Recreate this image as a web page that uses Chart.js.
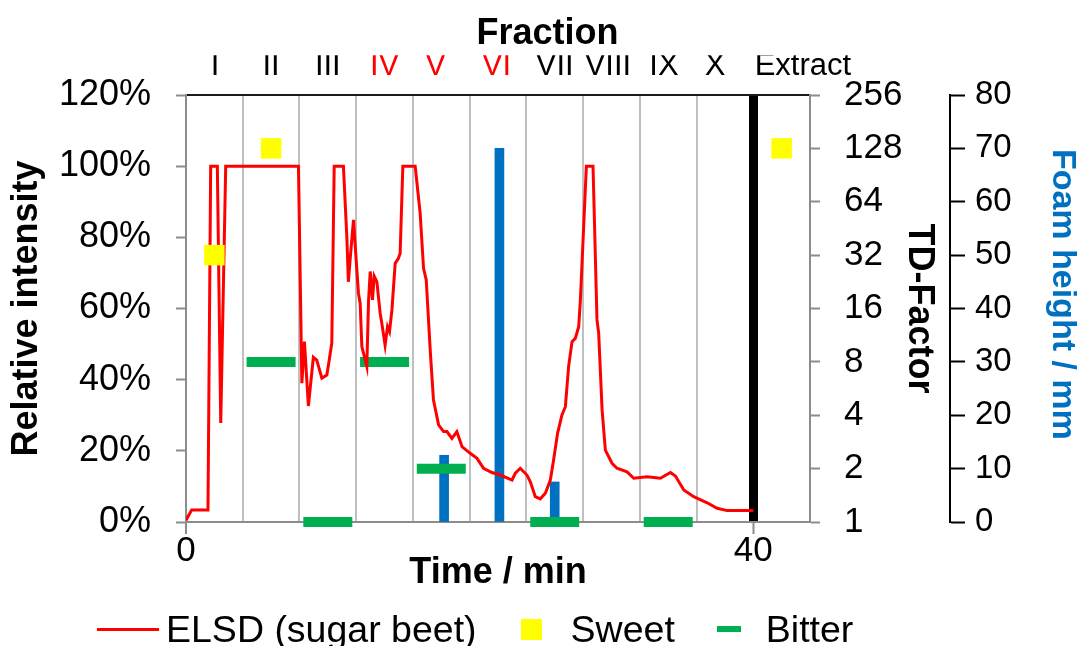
<!DOCTYPE html>
<html>
<head>
<meta charset="utf-8">
<script src="https://cdn.jsdelivr.net/npm/chart.js@4.4.0/dist/chart.umd.min.js"></script>
<style>
  html, body { margin: 0; padding: 0; background: #fff; }
  #wrap { position: relative; width: 1079px; height: 646px; }
  #legend {
    position: absolute; left: 97px; top: 609px; height: 40px;
    display: flex; align-items: center; white-space: nowrap;
    font-family: "Liberation Sans", Arial, sans-serif; font-size: 37.5px; color: #000;
  }
  #legend .line { width: 62px; height: 3px; background: #FF0000; margin-right: 7px; }
  #legend .sq { width: 21px; height: 21px; background: #FFFF00; margin: 0 29px 0 44px; }
  #legend .dash { width: 24px; height: 6px; background: #00B050; margin: 0 25px 0 42px; }
</style>
</head>
<body>
<div id="wrap">
  <canvas id="chart" width="1079" height="646"></canvas>
  <div id="legend">
    <span class="line"></span><span>ELSD (sugar beet)</span>
    <span class="sq"></span><span>Sweet</span>
    <span class="dash"></span><span>Bitter</span>
  </div>
</div>
<script>
// ELSD trace (time in min, relative intensity in %)
const elsdTime = [0, 0.4, 1.55, 1.74, 2.21, 2.45, 2.8, 7.93, 8.17, 8.35, 8.63, 8.98, 9.22, 9.58, 9.93, 10.04,
  10.28, 10.45, 11.1, 11.34, 11.45, 11.57, 11.81, 12.0, 12.16, 12.28, 12.4, 12.75, 12.87, 12.99, 13.15, 13.27,
  13.46, 13.69, 13.81, 14.04, 14.21, 14.35, 14.52, 14.75, 14.98, 15.1, 15.29, 16.16, 16.51, 16.75, 16.94, 17.1,
  17.22, 17.45, 17.81, 18.16, 18.4, 18.75, 19.1, 19.46, 20.04, 20.52, 20.98, 21.57, 22.16, 22.99, 23.22, 23.57,
  24.04, 24.28, 24.63, 24.98, 25.34, 25.69, 25.92, 26.2, 26.51, 26.75, 26.98, 27.22, 27.45, 27.69, 27.81, 28.23,
  28.7, 28.98, 29.1, 29.34, 29.57, 30.04, 30.39, 31.1, 31.57, 32.51, 33.45, 34.16, 34.51, 35.1, 35.8, 36.75,
  37.45, 38.16, 40];
const elsdIntensity = [0.5, 3.4, 3.4, 100, 100, 27.8, 100, 100, 39, 50.7, 32.6, 46.3, 45.5, 40.4, 41.3, 44,
  50.3, 100, 100, 80.2, 67.5, 73.6, 84.9, 73.6, 64.3, 61.5, 49.3, 43.7, 62, 70.4, 62.4, 69.1,
  67.5, 58.7, 55.8, 49.7, 54.9, 53.5, 59.6, 72.7, 74.1, 75.5, 100, 100, 86.8, 71.3, 68, 56.8,
  48.3, 34.3, 27.3, 25.4, 25.4, 23.5, 25.4, 21.2, 19.3, 17.9, 15.1, 13.9, 13.2, 11.8, 13.7, 15.1,
  13.2, 11.3, 7.1, 6.5, 8.1, 11.8, 17.4, 24.9, 30.1, 32.4, 43.7, 50.7, 51.6, 54.9, 62.4, 100,
  100, 56.8, 53, 31.5, 20.2, 16.5, 15.1, 14.1, 12.3, 12.7, 12.3, 13.9, 12.9, 9, 7.1, 5.4,
  3.85, 3.2, 3.2];

// sensory results on the TD-factor axis
const sweetTime = [2, 6, 42];
const sweetTD = [32, 128, 128];
const bitterTime = [6, 10, 14, 18, 26, 34];
const bitterTD = [8, 1, 8, 2, 1, 1];

// foam height bars
const foamTime = [18.2, 22.1, 26];
const foamHeight = [12.5, 70, 7.5];

// fractions
const fractionNames = ['I', 'II', 'III', 'IV', 'V', 'VI', 'VII', 'VIII', 'IX', 'X', 'Extract'];
const fractionCenters = [2.05, 6, 10, 14, 17.6, 21.9, 26, 29.75, 33.7, 37.3, 43.5];
const fractionColors = ['#000', '#000', '#000', '#F00', '#F00', '#F00', '#000', '#000', '#000', '#000', '#000'];
const fractionBounds = [0, 4, 8, 12, 16, 20, 24, 28, 32, 36, 40, 44];
const timeLabels = [0, 40];
const tdTicks = [1, 2, 4, 8, 16, 32, 64, 128, 256];

Chart.defaults.font.family = '"Liberation Sans", Arial, sans-serif';
Chart.defaults.color = '#000';

const pts = (xs, ys) => xs.map((x, i) => ({ x: x, y: ys[i] }));
const tickVal = c => (c.tick ? c.tick.value : null);

new Chart(document.getElementById('chart').getContext('2d'), {
  type: 'line',
  data: {
    datasets: [{
      label: 'Sweet',
      data: pts(sweetTime, sweetTD),
      yAxisID: 'yTD',
      showLine: false,
      pointStyle: 'rect',
      pointRadius: 14.5,
      pointHoverRadius: 14.5,
      pointBackgroundColor: '#FFFF00',
      pointBorderWidth: 0,
      clip: false
    }, {
      label: 'ELSD (sugar beet)',
      data: pts(elsdTime, elsdIntensity),
      yAxisID: 'y',
      borderColor: '#FF0000',
      borderWidth: 3,
      pointRadius: 0,
      tension: 0,
      fill: false
    }, {
      label: 'Bitter',
      data: pts(bitterTime, bitterTD),
      yAxisID: 'yTD',
      showLine: false,
      pointStyle: 'line',
      pointRadius: 24.5,
      pointHoverRadius: 24.5,
      pointBorderColor: '#00B050',
      pointBorderWidth: 10,
      pointHoverBorderWidth: 10,
      clip: false
    }, {
      type: 'bar',
      label: 'Foam height',
      data: pts(foamTime, foamHeight),
      yAxisID: 'yFoam',
      backgroundColor: '#0070C0',
      barThickness: 9
    }]
  },
  options: {
    responsive: false,
    animation: false,
    events: [],
    layout: { padding: { left: 16, bottom: 46 } },
    plugins: {
      legend: { display: false },
      tooltip: { enabled: false },
      title: {
        display: true,
        text: 'Fraction',
        color: '#000',
        font: { size: 36, weight: 'bold', lineHeight: 1.2 },
        padding: { top: 12, bottom: 0 }
      }
    },
    scales: {
      x: {
        type: 'linear', position: 'bottom', min: 0, max: 44, offset: false,
        afterBuildTicks: s => { s.ticks = fractionBounds.map(v => ({ value: v })); },
        afterFit: s => { s.height = 78; },
        grid: {
          offset: false,
          color: c => tickVal(c) === 40 ? '#000' : (tickVal(c) === 0 || tickVal(c) === 44 ? 'rgba(0,0,0,0)' : '#BFBFBF'),
          lineWidth: c => tickVal(c) === 40 ? 9 : 2,
          tickColor: c => timeLabels.includes(tickVal(c)) ? '#8C8C8C' : 'rgba(0,0,0,0)',
          tickWidth: 2,
          tickLength: 12
        },
        border: { color: '#8C8C8C', width: 2 },
        ticks: {
          autoSkip: false, maxRotation: 0, padding: 0,
          font: { size: 35, lineHeight: 1 },
          callback: v => timeLabels.includes(v) ? String(v) : ''
        },
        title: {
          display: true, text: 'Time / min',
          font: { size: 36, weight: 'bold', lineHeight: 1 },
          padding: { top: 0, bottom: 9 }
        }
      },
      xTop: {
        type: 'linear', axis: 'x', position: 'top', min: 0, max: 44, offset: false,
        afterBuildTicks: s => { s.ticks = fractionCenters.map(v => ({ value: v })); },
        afterFit: s => { s.height = 39.8; },
        grid: { display: false, drawTicks: false },
        border: { color: '#1A1A1A', width: 2 },
        ticks: {
          autoSkip: false, maxRotation: 0, padding: 10,
          font: { size: 31 },
          color: c => fractionColors[c.index],
          callback: (v, i) => fractionNames[i]
        }
      },
      y: {
        type: 'linear', position: 'left', min: 0, max: 120,
        afterFit: s => { s.width = 170; },
        ticks: { stepSize: 20, padding: 25, font: { size: 36 }, callback: v => v + '%' },
        grid: { drawOnChartArea: false, tickColor: '#8C8C8C', tickLength: 10, tickWidth: 2 },
        border: { color: '#8C8C8C', width: 2 },
        title: {
          display: true, text: 'Relative intensity',
          font: { size: 36, weight: 'bold', lineHeight: 1 },
          padding: { top: -7 }
        }
      },
      yTD: {
        type: 'logarithmic', position: 'right', min: 1, max: 256,
        afterBuildTicks: s => { s.ticks = tdTicks.map(v => ({ value: v })); },
        afterFit: s => { s.width = 140; },
        ticks: { autoSkip: false, padding: 24, font: { size: 35 }, callback: v => String(v) },
        grid: { drawOnChartArea: false, tickColor: '#8C8C8C', tickLength: 10, tickWidth: 2 },
        border: { color: '#8C8C8C', width: 2 },
        title: {
          display: true, text: 'TD-Factor',
          font: { size: 36, weight: 'bold', lineHeight: 1 },
          padding: { top: 13 }
        }
      },
      yFoam: {
        type: 'linear', position: 'right', min: 0, max: 80,
        afterFit: s => { s.width = 129; },
        ticks: { stepSize: 10, padding: 10, font: { size: 33 } },
        grid: { drawOnChartArea: false, tickColor: '#000', tickLength: 15, tickWidth: 2 },
        border: { color: '#000', width: 2 },
        title: {
          display: true, text: 'Foam height / mm   ',
          color: '#0070C0',
          font: { size: 34, weight: 'bold', lineHeight: 1 },
          padding: { top: 0 }
        }
      }
    }
  }
});
</script>
</body>
</html>
